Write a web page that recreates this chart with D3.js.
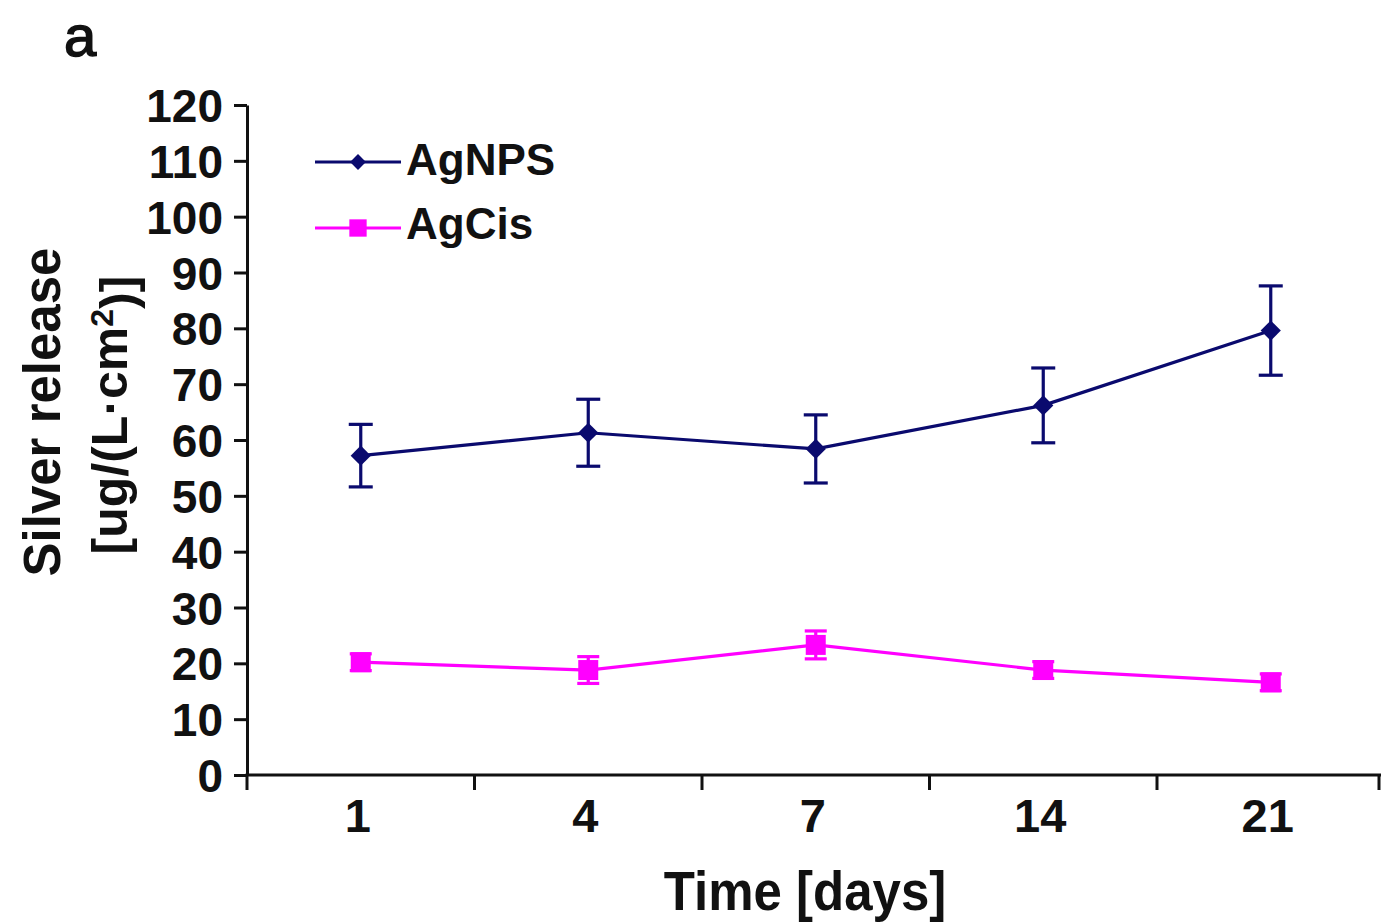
<!DOCTYPE html>
<html>
<head>
<meta charset="utf-8">
<script src="https://cdn.jsdelivr.net/npm/d3@7"></script>
<style>
  html, body { margin: 0; padding: 0; background: #fff; }
  svg { display: block; }
  text { font-family: "Liberation Sans", Arial, sans-serif; font-weight: bold; fill: #111; }
</style>
</head>
<body>
<svg id="chart" width="1381" height="924"></svg>
<script>
// ---- data ----
const days = ["1", "4", "7", "14", "21"];
const agnpsMean = [57.2, 61.3, 58.4, 66.2, 79.6];
const agnpsErr  = [5.6, 6.0, 6.1, 6.7, 8.0];
const agcisMean = [20.2, 18.8, 23.3, 18.8, 16.6];
const agcisErr  = [1.5, 2.4, 2.5, 1.5, 1.5];
const yTickValues = [0, 10, 20, 30, 40, 50, 60, 70, 80, 90, 100, 110, 120];
const seriesNames = ["AgNPS", "AgCis"];

// ---- layout ----
const svg = d3.select("#chart");
const x0 = 247, y0 = 775, yTop = 105;
const bandW = 227.5;
const navy = "#0a0a6e", magenta = "#ff00ff";

const x = d3.scaleBand().domain(days).range([x0, x0 + bandW * days.length]).paddingInner(0).paddingOuter(0);
const y = d3.scaleLinear().domain([0, 120]).range([y0, yTop]);

// y axis
const yAxis = svg.append("g").attr("transform", `translate(${x0},0)`)
  .call(d3.axisLeft(y).tickValues(yTickValues).tickSize(13).tickPadding(11).tickSizeOuter(0));
yAxis.select(".domain").attr("stroke", "#111").attr("stroke-width", 3);
yAxis.selectAll(".tick line").attr("stroke", "#111").attr("stroke-width", 3);
yAxis.selectAll(".tick text").style("font-size", "46px").attr("dy", "0.36em").attr("fill", "#111");

// x axis: line + tick marks at band boundaries, labels at band centres
const xAxisG = svg.append("g").attr("transform", `translate(0,${y0})`);
xAxisG.append("line").attr("x1", x0 - 1.5).attr("x2", 1381).attr("y1", 0).attr("y2", 0)
  .attr("stroke", "#111").attr("stroke-width", 3);
const boundaries = [x0].concat(days.map(d => x(d) + x.bandwidth()));
xAxisG.selectAll("line.tk").data(boundaries).join("line").attr("class", "tk")
  .attr("x1", d => Math.min(d, 1379)).attr("x2", d => Math.min(d, 1379))
  .attr("y1", 0).attr("y2", 15).attr("stroke", "#111").attr("stroke-width", 3);
xAxisG.selectAll("text.tl").data(days).join("text").attr("class", "tl")
  .attr("x", d => x(d) + x.bandwidth() / 2 - 3).attr("y", 57)
  .attr("text-anchor", "middle").style("font-size", "47px").text(d => d);

// axis titles
svg.append("text").attr("transform", "translate(805,910) scale(1,1.1)").attr("text-anchor", "middle")
  .style("font-size", "51px").text("Time [days]");
svg.append("text").attr("transform", "translate(60,412) rotate(-90)").attr("text-anchor", "middle")
  .style("font-size", "51px").text("Silver release");
const yl2 = svg.append("text").attr("transform", "translate(127,415) rotate(-90)").attr("text-anchor", "middle")
  .style("font-size", "50px");
yl2.append("tspan").text("[ug/(L\u00B7cm");
yl2.append("tspan").attr("dy", "-0.45em").style("font-size", "32px").text("2");
yl2.append("tspan").attr("dy", "0.45em").text(")]");

// panel label
svg.append("text").attr("x", 64).attr("y", 56).style("font-size", "58px").style("font-weight", "normal")
  .attr("stroke", "#111").attr("stroke-width", 1.5).text("a");

// ---- series ----
function drawSeries(means, errs, color, marker) {
  const pts = days.map((d, i) => ({ d, m: means[i], e: errs[i] }));
  const cx = d => x(d) + x.bandwidth() / 2;
  const g = svg.append("g");
  g.append("path").datum(pts)
    .attr("d", d3.line().x(p => cx(p.d)).y(p => y(p.m)))
    .attr("fill", "none").attr("stroke", color).attr("stroke-width", 3.2);
  const capW = marker === "diamond" ? 24 : 22;
  const eb = g.selectAll("g.eb").data(pts).join("g");
  eb.append("line").attr("x1", p => cx(p.d)).attr("x2", p => cx(p.d))
    .attr("y1", p => y(p.m - p.e)).attr("y2", p => y(p.m + p.e))
    .attr("stroke", color).attr("stroke-width", 3.2);
  eb.append("line").attr("x1", p => cx(p.d) - capW / 2).attr("x2", p => cx(p.d) + capW / 2)
    .attr("y1", p => y(p.m + p.e)).attr("y2", p => y(p.m + p.e))
    .attr("stroke", color).attr("stroke-width", 3.2);
  eb.append("line").attr("x1", p => cx(p.d) - capW / 2).attr("x2", p => cx(p.d) + capW / 2)
    .attr("y1", p => y(p.m - p.e)).attr("y2", p => y(p.m - p.e))
    .attr("stroke", color).attr("stroke-width", 3.2);
  const sym = marker === "diamond"
    ? d3.symbol().type(d3.symbolDiamond2).size(260)
    : d3.symbol().type(d3.symbolSquare).size(400);
  eb.append("path").attr("d", sym)
    .attr("transform", p => `translate(${cx(p.d)},${y(p.m)})`)
    .attr("fill", color);
}
drawSeries(agnpsMean, agnpsErr, navy, "diamond");
drawSeries(agcisMean, agcisErr, magenta, "square");

// ---- legend ----
const legend = svg.append("g");
const legendItems = [
  { name: seriesNames[0], color: navy, sym: d3.symbol().type(d3.symbolDiamond2).size(160), y: 162, ty: 175 },
  { name: seriesNames[1], color: magenta, sym: d3.symbol().type(d3.symbolSquare).size(300), y: 228, ty: 239 }
];
legendItems.forEach(it => {
  legend.append("line").attr("x1", 315).attr("x2", 401).attr("y1", it.y).attr("y2", it.y)
    .attr("stroke", it.color).attr("stroke-width", 3.2);
  legend.append("path").attr("d", it.sym).attr("transform", `translate(358,${it.y})`).attr("fill", it.color);
  legend.append("text").attr("x", 406).attr("y", it.ty)
    .style("font-size", "44px").text(it.name);
});
</script>
</body>
</html>
